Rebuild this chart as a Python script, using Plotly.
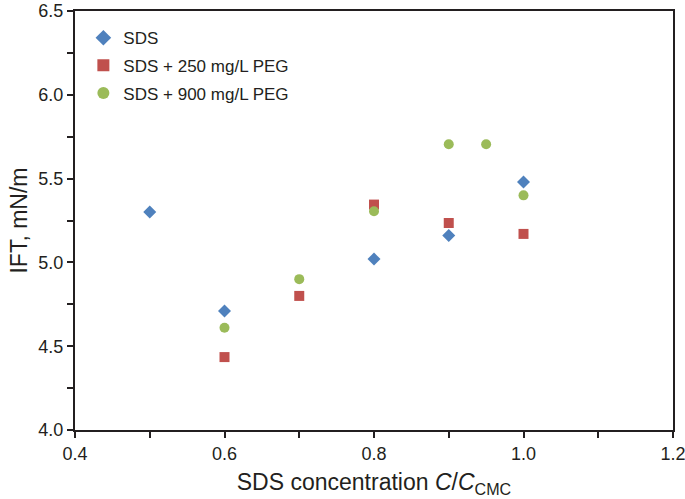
import plotly.graph_objects as go

x_sds = [0.5, 0.6, 0.8, 0.9, 1.0]
y_sds = [5.30, 4.71, 5.02, 5.16, 5.48]

x_250 = [0.6, 0.7, 0.8, 0.9, 1.0]
y_250 = [4.435, 4.80, 5.345, 5.235, 5.17]

x_900 = [0.6, 0.7, 0.8, 0.9, 0.95, 1.0]
y_900 = [4.61, 4.90, 5.305, 5.705, 5.705, 5.40]

names = ["SDS", "SDS + 250 mg/L PEG", "SDS + 900 mg/L PEG"]
colors = ["#4F81BD", "#C0504D", "#9BBB59"]
symbols = ["diamond", "square", "circle"]
sizes = [10, 10, 10]

xticks = [0.4, 0.6, 0.8, 1.0, 1.2]
yticks = [4.0, 4.5, 5.0, 5.5, 6.0, 6.5]

fig = go.Figure()
for i, (xs, ys, n, c, s, sz) in enumerate(zip([x_sds, x_250, x_900], [y_sds, y_250, y_900],
                                              names, colors, symbols, sizes)):
    fig.add_trace(go.Scatter(x=xs, y=ys, mode="markers", name=n, legendgroup=f"g{i}",
                             marker=dict(color=c, symbol=s, size=sz, line=dict(width=0))))

axcol = "#231F20"
fig.update_layout(
    width=685, height=499,
    margin=dict(l=75, r=12, t=11, b=69),
    paper_bgcolor="white", plot_bgcolor="white",
    font=dict(family="Liberation Sans, Arial, sans-serif", size=18, color="#231F20"),
    showlegend=True,
    legend=dict(x=0.014, y=0.978, xanchor="left", yanchor="top",
                bgcolor="rgba(0,0,0,0)", font=dict(size=17),
                itemsizing="constant", traceorder="grouped", tracegroupgap=2.5, itemwidth=30),
    xaxis=dict(range=[0.4, 1.2], tickvals=xticks, automargin=False, ticklabeloverflow="allow",
               ticktext=[f"{v:.1f}" for v in xticks],
               showgrid=False, zeroline=False, showline=True, linecolor=axcol, linewidth=2,
               mirror=True, ticks="outside", ticklen=6, tickcolor=axcol, tickwidth=1.5,
               minor=dict(dtick=0.1, ticks="outside", ticklen=6, tickcolor=axcol, tickwidth=1.5, showgrid=False),
               title=dict(text="SDS concentration <i>C</i>/<i>C</i><sub>CMC</sub>",
                          font=dict(size=23), standoff=11),
               tickfont=dict(size=18)),
    yaxis=dict(range=[4.0, 6.5], tickvals=yticks, automargin=False, ticklabeloverflow="allow",
               ticktext=[f"{v:.1f}" for v in yticks],
               showgrid=False, zeroline=False, showline=True, linecolor=axcol, linewidth=2,
               mirror=True, ticks="outside", ticklen=6, tickcolor=axcol, tickwidth=1.5,
               minor=dict(dtick=0.25, ticks="outside", ticklen=6, tickcolor=axcol, tickwidth=1.5, showgrid=False),
               title=dict(text="IFT, mN/m", font=dict(size=23), standoff=4),
               tickfont=dict(size=18)),
)
# remove the page's default 8px body margin so the figure sits at the window's top-left corner
fig.write_html("out.html", config={"displayModeBar": False},
               post_script="document.body.style.margin='0';")
